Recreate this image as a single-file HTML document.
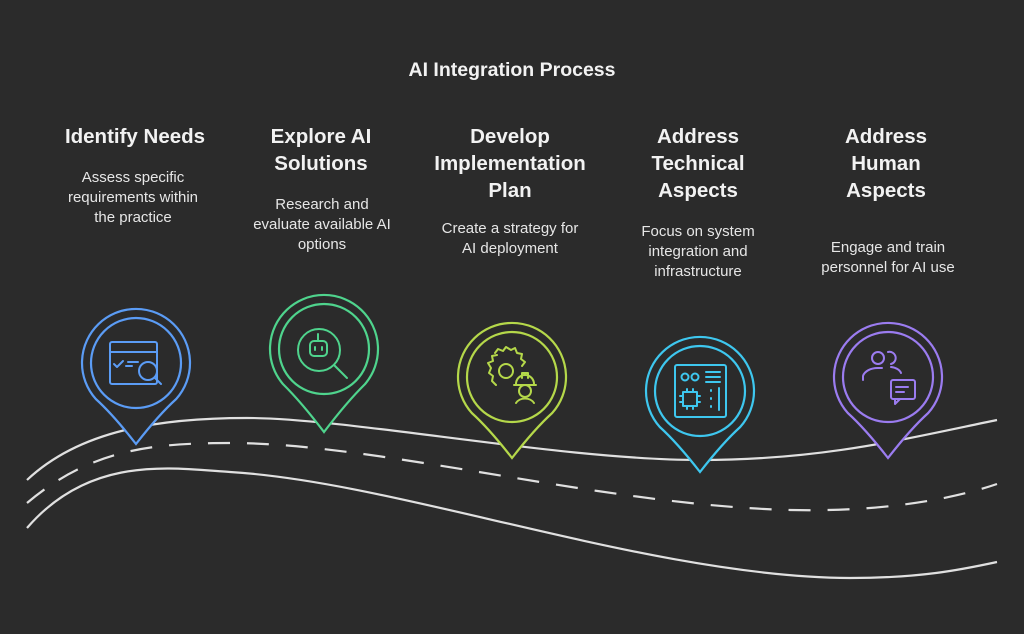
<!DOCTYPE html>
<html><head><meta charset="utf-8"><style>
html,body{margin:0;padding:0;background:#2b2b2b;}
svg{display:block}
text{font-family:"Liberation Sans",Arial,sans-serif;text-anchor:middle}
.h{font-weight:bold;font-size:20.5px;fill:#f2f2f2}
.d{font-size:15px;fill:#e6e6e6}
</style></head><body>
<svg id="s" width="1024" height="634" viewBox="0 0 1024 634" xmlns="http://www.w3.org/2000/svg">
<rect width="1024" height="634" fill="#2b2b2b"/>
<text x="512" y="76" class="h" style="font-size:19.5px">AI Integration Process</text>

<text x="135" y="143" class="h">Identify Needs</text>
<text class="d" x="133" y="182">Assess specific</text>
<text class="d" x="133" y="202">requirements within</text>
<text class="d" x="133" y="222">the practice</text>

<text x="321" y="143" class="h">Explore AI</text>
<text x="321" y="170" class="h">Solutions</text>
<text class="d" x="322" y="209">Research and</text>
<text class="d" x="322" y="229">evaluate available AI</text>
<text class="d" x="322" y="249">options</text>

<text x="510" y="143" class="h">Develop</text>
<text x="510" y="170" class="h">Implementation</text>
<text x="510" y="197" class="h">Plan</text>
<text class="d" x="510" y="233">Create a strategy for</text>
<text class="d" x="510" y="253">AI deployment</text>

<text x="698" y="143" class="h">Address</text>
<text x="698" y="170" class="h">Technical</text>
<text x="698" y="197" class="h">Aspects</text>
<text class="d" x="698" y="236">Focus on system</text>
<text class="d" x="698" y="256">integration and</text>
<text class="d" x="698" y="276">infrastructure</text>

<text x="886" y="143" class="h">Address</text>
<text x="886" y="170" class="h">Human</text>
<text x="886" y="197" class="h">Aspects</text>
<text class="d" x="888" y="252">Engage and train</text>
<text class="d" x="888" y="272">personnel for AI use</text>

<g fill="none" stroke="#e0e0e0" stroke-width="2.2">
<path d="M27,480 C80,430 160,418 247,418 C350,418 560,460 700,460 C820,460 900,440 997,420"/>
<path d="M27,528 C90,455 170,468 230,472 C400,482 650,577 850,578 C920,578 960,570 997,562"/>
<path d="M27,503 C90,450 150,443 230,443 C380,443 600,505 790,510 C880,512 950,500 997,484" stroke-dasharray="22,17"/>
</g>
<g id="pins" fill="none" stroke-width="2.2"></g>

<g fill="none" stroke-width="2" stroke-linecap="round" stroke-linejoin="round">
<g stroke="#5b9cf5">
<rect x="110" y="342" width="47" height="42" rx="2"/>
<line x1="110" y1="352" x2="157" y2="352"/>
<path d="M114,364 l3,3 l6,-6"/><line x1="128" y1="362" x2="138" y2="362"/><line x1="126" y1="366" x2="132" y2="366"/>
<circle cx="148" cy="371" r="9" fill="#2b2b2b"/><line x1="155" y1="378" x2="161" y2="384"/>
</g>
<g stroke="#4fd48d">
<circle cx="319" cy="350" r="21"/><line x1="334" y1="365" x2="347" y2="378"/>
<rect x="310" y="341" width="17" height="15" rx="4"/><line x1="318" y1="334" x2="318" y2="341"/>
<line x1="315" y1="347" x2="315" y2="350"/><line x1="322" y1="347" x2="322" y2="350"/>
</g>
<g stroke="#b5d84a">
<path d="M495,353 l3,-4 l5,2 l3,-4 l5,3 l4,-2 l2,5 l5,1 l-1,5 l4,3 l-3,4 M496,385 l-4,-4 l1,-5 l-4,-3 l2,-5 l-3,-5 l5,-2 l-1,-5 l5,-1"/>
<circle cx="506" cy="371" r="7"/>
<path d="M516,384 a9,9 0 0 1 18,0 M514,385 h22 M522,378 v-5 h6 v5"/>
<path d="M516,403 a10,8 0 0 1 18,0"/><circle cx="525" cy="391" r="6"/>
</g>
<g stroke="#3ec7ef">
<rect x="675" y="365" width="51" height="52" rx="2"/>
<circle cx="685" cy="377" r="3.5"/><circle cx="695" cy="377" r="3.5"/>
<line x1="706" y1="372" x2="720" y2="372"/><line x1="706" y1="377" x2="720" y2="377"/><line x1="706" y1="382" x2="720" y2="382"/>
<rect x="683" y="392" width="14" height="14"/>
<path d="M680,396 h3 M680,402 h3 M697,396 h3 M697,402 h3 M687,389 v3 M693,389 v3 M687,406 v3 M693,406 v3"/>
<line x1="711" y1="390" x2="711" y2="391"/><line x1="711" y1="398" x2="711" y2="399"/><line x1="711" y1="406" x2="711" y2="407"/>
<line x1="719" y1="388" x2="719" y2="410"/>
</g>
<g stroke="#9b7cf0">
<circle cx="878" cy="358" r="6"/><path d="M863,380 v-4 a15,10 0 0 1 15,-8 h4"/>
<path d="M888,352 a6,6 0 1 1 3,12 M891,367 a12,8 0 0 1 10,6"/>
<rect x="891" y="380" width="24" height="19" rx="2"/><path d="M895,399 v5 l5,-5"/>
<line x1="896" y1="387" x2="908" y2="387"/><line x1="896" y1="392" x2="904" y2="392"/>
</g>
</g>
</svg>
<script>
var P=[[136,363,444,"#5b9cf5"],[324,349,432,"#4fd48d"],[512,377,458,"#b5d84a"],[700,391,472,"#3ec7ef"],[888,377,458,"#9b7cf0"]];
var g=document.getElementById('pins'),h='',R=54;
P.forEach(function(p){var cx=p[0],cy=p[1],ty=p[2],d=ty-cy,th=Math.acos(R/d);
var ax=cx-R*Math.sin(th),ay=cy+R*Math.cos(th),bx=cx+R*Math.sin(th);
h+='<path stroke="'+p[3]+'" d="M'+cx+','+ty+' Q'+(cx-R*0.42)+','+(ty-d*0.36)+' '+ax.toFixed(1)+','+ay.toFixed(1)+' A'+R+','+R+' 0 1 1 '+bx.toFixed(1)+','+ay.toFixed(1)+' Q'+(cx+R*0.42)+','+(ty-d*0.36)+' '+cx+','+ty+'Z" fill="#2b2b2b"/>';
h+='<circle stroke="'+p[3]+'" cx="'+cx+'" cy="'+cy+'" r="45"/>';});
g.innerHTML=h;
</script>
</body></html>
